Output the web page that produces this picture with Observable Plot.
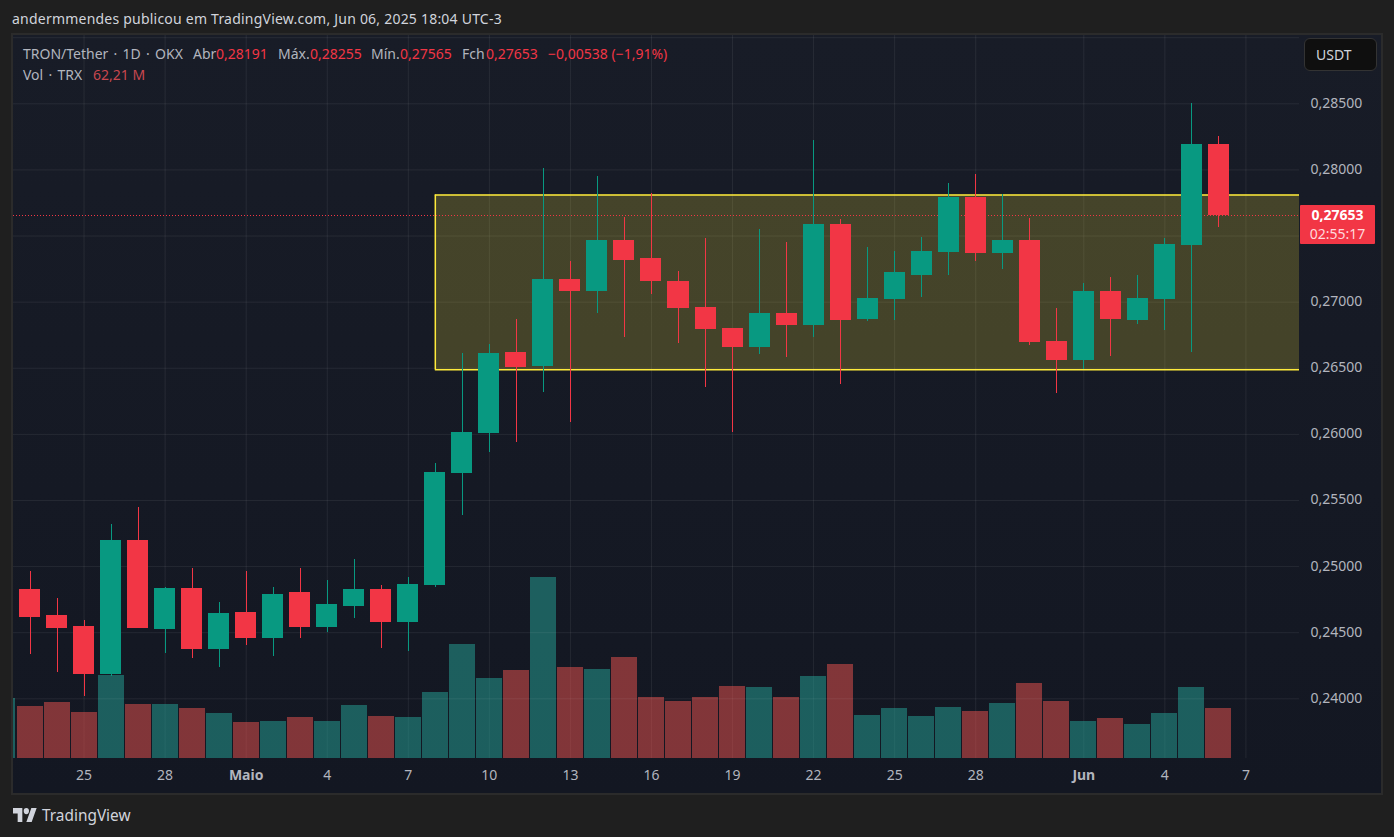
<!DOCTYPE html>
<html>
<head>
<meta charset="utf-8">
<script src="https://cdn.jsdelivr.net/npm/d3@7"></script>
<script src="https://cdn.jsdelivr.net/npm/@observablehq/plot@0.6"></script>
<style>
  html, body { margin: 0; padding: 0; background: #1f1f1f; }
  body { width: 1394px; height: 837px; position: relative; overflow: hidden; font-family: "Noto Sans", sans-serif; }
  .byline { position: absolute; left: 12px; top: 9px; font-size: 14px; letter-spacing: 0.22px; color: #d1d4dc; white-space: nowrap; }
  .pane { position: absolute; left: 11px; top: 33px; width: 1368px; height: 758px; border: 2px solid #2b2b2b;
          background: linear-gradient(#181c27, #131722); }
  .pane svg { position: absolute; left: 0; top: 0; }
  .legend { position: absolute; left: 23px; font-size: 14px; color: #b2b5be; white-space: nowrap; }
  .legend span { position: absolute; top: 0; }
  .wide { word-spacing: 1.6px; }
  .red { color: #f23645; }
  .dim { color: #c9474f; }
  .unit { position: absolute; left: 1304px; top: 38px; width: 71px; height: 31px; line-height: 31px; box-sizing: content-box;
          background: #0f0f0f; border: 1px solid #333; border-radius: 6px; color: #d1d4dc; font-size: 14px; text-indent: 11px; }
  .tag { position: absolute; left: 1300px; width: 75px; height: 39px; background: #f23645; color: #fff; text-align: center;
         font-size: 14px; line-height: 19px; border-radius: 1px; }
  .tag b { display: block; }
  .tag i { display: block; font-style: normal; color: #ffd9dc; }
  .brand { position: absolute; left: 13px; top: 808px; height: 16px; color: #d1d4dc; font-size: 15.4px; line-height: 16px; }
  .brand svg { position: absolute; left: 0; top: 0; }
  .brand span { position: absolute; left: 29px; top: 0; }
</style>
</head>
<body>
<div class="byline">andermmendes publicou em TradingView.com, Jun 06, 2025 18:04 UTC-3</div>
<div class="pane" id="pane"></div>
<div class="legend" style="top:44px;width:700px;height:18px">
  <span class="wide" style="left:0">TRON/Tether · 1D · OKX</span>
  <span style="left:170px">Abr</span><span class="red" style="left:193px">0,28191</span>
  <span style="left:255px">Máx.</span><span class="red" style="left:287px">0,28255</span>
  <span style="left:348px">Mín.</span><span class="red" style="left:377px">0,27565</span>
  <span style="left:439px">Fch</span><span class="red" style="left:463px">0,27653</span>
  <span class="red" style="left:525px">−0,00538 (−1,91%)</span>
</div>
<div class="legend" style="top:65px;width:200px;height:18px">
  <span class="wide" style="left:0">Vol · TRX</span><span class="dim" style="left:70px">62,21 M</span>
</div>
<div class="unit">USDT</div>
<div class="tag" id="tag"><b>0,27653</b><i>02:55:17</i></div>
<div class="brand">
  <svg width="24" height="14" viewBox="0 4 36 18" preserveAspectRatio="none" fill="#d1d4dc">
    <path d="M14 22H7V11H0V4h14v18ZM28 22h-8l7.5-18h8L28 22Z"></path><circle cx="20" cy="8" r="4"></circle>
  </svg>
  <span>TradingView</span>
</div>

<script>
// Daily candles, Apr 23 to Jun 6 2025
var candleDays = d3.utcDay.range(new Date("2025-04-23"), new Date("2025-06-07"));
var opens = [
  .24826, .24630, .24547, .24184, .25197, .24524, .24834, .24373, .24652, .24456, .24804, .24539, .24698, .24826, .24577,
  .24857, .25704, .26006, .26619, .26513, .27171, .27080, .27466, .27330, .27156, .26959, .26800, .26657, .26914, .26823,
  .27587, .26868, .27020, .27201, .27375, .27791, .27368, .27466, .26702, .26558, .27080, .26861, .27020, .27428, .28191
];
var highs = [
  .24963, .24758, .24592, .25318, .25447, .24842, .24985, .24728, .24963, .24842, .24985, .24894, .25053, .24857, .24917,
  .25779, .26611, .26679, .26868, .28010, .27307, .27950, .27640, .27821, .27231, .27481, .26800, .27549, .27451, .28222,
  .27625, .27413, .27383, .27489, .27897, .27965, .27814, .27632, .26952, .27141, .27186, .27201, .27481, .28502, .28255
];
var lows = [
  .24335, .24199, .24017, .24168, .24531, .24342, .24305, .24237, .24403, .24320, .24456, .24501, .24607, .24380, .24357,
  .24842, .25386, .25863, .25938, .26316, .26089, .26914, .26732, .27057, .26687, .26354, .26014, .26604, .26581, .26732,
  .26377, .26853, .26861, .27035, .27201, .27307, .27247, .26672, .26309, .26490, .26589, .26831, .26785, .26619, .27565
];
var closes = [
  .24615, .24531, .24184, .25197, .24531, .24834, .24373, .24645, .24456, .24789, .24539, .24713, .24826, .24577, .24864,
  .25711, .26014, .26611, .26505, .27171, .27080, .27466, .27315, .27156, .26952, .26793, .26657, .26914, .26823, .27587,
  .26861, .27027, .27224, .27383, .27791, .27368, .27466, .26694, .26558, .27080, .26868, .27027, .27436, .28192, .27653
];

// Volume in millions TRX. One more bar than candles: Apr 22 is cut by the left edge
var volumeDays = d3.utcDay.range(new Date("2025-04-22"), new Date("2025-06-07"));
var volumes = [
  74.6, 64.7, 69.7, 57.2, 103.3, 67.2, 67.2, 62.2, 56.0, 44.8, 46.0, 51.0, 46.0, 65.9, 52.2, 51.0,
  82.1, 141.8, 99.5, 109.5, 225.2, 113.2, 110.7, 125.6, 75.9, 70.9, 75.9, 89.6, 88.3, 75.9, 102.0, 116.9,
  53.5, 62.2, 52.2, 63.4, 58.5, 68.4, 92.8, 70.9, 46.0, 49.8, 42.3, 56.0, 89.0, 62.21
];

// Axes
var priceGrid = [0.24, 0.245, 0.25, 0.255, 0.26, 0.265, 0.27, 0.275, 0.28, 0.285, 0.29];
var priceLabels = [0.24, 0.245, 0.25, 0.255, 0.26, 0.265, 0.27, 0.28, 0.285];
var dayTicks = ["2025-04-25", "2025-04-28", "2025-05-04", "2025-05-07", "2025-05-10", "2025-05-13", "2025-05-16",
                "2025-05-19", "2025-05-22", "2025-05-25", "2025-05-28", "2025-06-04", "2025-06-07"].map(function(d) { return new Date(d); });
var monthTicks = [new Date("2025-05-01"), new Date("2025-06-01")];
var monthNames = ["Maio", "Jun"];

// Yellow box drawn on the chart and the last price
var boxStart = new Date("2025-05-08");
var boxTop = 0.2781;
var boxBottom = 0.26488;
var lastPrice = 0.27653;

var xDomain = [new Date("2025-04-22T09:20Z"), new Date("2025-06-08T23:35Z")];
var width = 1368;
var height = 758;
var marginRight = 82;
var marginBottom = 35;
var hour = 3600000;

var UP = "#089981";
var DOWN = "#f23645";
var textColor = "#b2b5be";
var gridStyle = { stroke: "#ffffff", strokeOpacity: 0.07 };
var plotStyle = { background: "transparent", fontFamily: "Noto Sans, sans-serif", overflow: "visible" };

var candles = candleDays.map(function(day, i) {
    return { day: day, open: opens[i], high: highs[i], low: lows[i], close: closes[i], up: closes[i] >= opens[i] };
});
var volumeBars = volumeDays.map(function(day, i) {
    // the Apr 22 bar is teal, the rest follow their candle
    var up = i === 0 ? true : candles[i - 1].up;
    return { day: day, volume: volumes[i], up: up };
});
function candleColor(d) { return d.up ? UP : DOWN; }
function volumeColor(d) { return d.up ? "rgb(38,166,154)" : "rgb(239,83,80)"; }
function shifted(hours) { return function(d) { return new Date(d.day.getTime() + hours * hour); }; }

// Grid and volume sit in their own plot because volume has its own y scale
var volumePlot = Plot.plot({
    width: width,
    height: height,
    marginTop: 0,
    marginLeft: 0,
    marginRight: marginRight,
    marginBottom: marginBottom,
    style: plotStyle,
    x: { type: "utc", domain: xDomain, axis: null },
    y: { domain: [0, 900], axis: null },
    marks: [
        Plot.gridX(dayTicks.concat(monthTicks), gridStyle),
        Plot.rect(volumeBars, {
            x1: shifted(-11.55),
            x2: shifted(11.55),
            y1: 0,
            y2: "volume",
            fill: volumeColor,
            fillOpacity: 0.5,
            clip: true,
            shapeRendering: "crispEdges"
        })
    ]
});

var pricePlot = Plot.plot({
    width: width,
    height: height,
    marginTop: 0,
    marginLeft: 0,
    marginRight: marginRight,
    marginBottom: marginBottom,
    style: plotStyle,
    x: { type: "utc", domain: xDomain },
    y: { domain: [0.235484, 0.290166] },
    marks: [
        Plot.gridY(priceGrid, gridStyle),
        Plot.rect([{}], {
            x1: boxStart,
            x2: xDomain[1],
            y1: boxBottom,
            y2: boxTop,
            fill: "#ffeb3b",
            fillOpacity: 0.2
        }),
        Plot.ruleY([boxTop, boxBottom], { x1: boxStart, x2: xDomain[1], stroke: "#ffeb3b", strokeWidth: 1.5 }),
        Plot.ruleX([boxStart], { y1: boxBottom, y2: boxTop, stroke: "#ffeb3b", strokeWidth: 1.5 }),
        Plot.ruleY([lastPrice], { stroke: DOWN, strokeDasharray: "1,2", strokeWidth: 1, shapeRendering: "crispEdges" }),
        Plot.ruleX(candles, { x: "day", y1: "low", y2: "high", stroke: candleColor, strokeWidth: 1, shapeRendering: "crispEdges" }),
        Plot.rect(candles, {
            x1: shifted(-9.33),
            x2: shifted(9.33),
            y1: "open",
            y2: "close",
            fill: candleColor,
            shapeRendering: "crispEdges"
        }),
        Plot.axisY(priceLabels, {
            anchor: "right",
            tickSize: 0,
            tickPadding: 11,
            fontSize: 14,
            color: textColor,
            label: null,
            dy: -0.5,
            tickFormat: function(d) { return d3.format(".5f")(d).replace(".", ","); }
        }),
        Plot.axisX(dayTicks, {
            anchor: "bottom",
            tickSize: 0,
            tickPadding: 12,
            fontSize: 14,
            color: textColor,
            label: null,
            tickFormat: function(d) { return String(d.getUTCDate()); }
        }),
        Plot.axisX(monthTicks, {
            anchor: "bottom",
            tickSize: 0,
            tickPadding: 12,
            fontSize: 14,
            fontWeight: "bold",
            color: textColor,
            label: null,
            tickFormat: function(d) { return monthNames[monthTicks.findIndex(function(t) { return +t === +d; })]; }
        })
    ]
});

var pane = document.getElementById("pane");
pane.appendChild(volumePlot);
pane.appendChild(pricePlot);

// Price tag follows the last price on the y scale; 35 is the pane's top offset
document.getElementById("tag").style.top = (35 + pricePlot.scale("y").apply(lastPrice) - 10.5) + "px";
</script>
</body>
</html>
